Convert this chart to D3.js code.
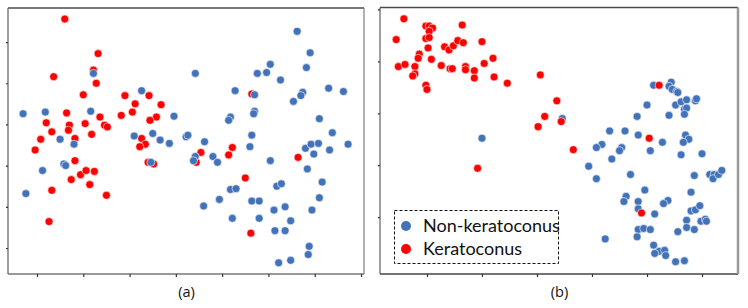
<!DOCTYPE html>
<html>
<head>
<meta charset="utf-8">
<script src="https://cdn.jsdelivr.net/npm/d3@7"></script>
<style>
  html, body { margin: 0; padding: 0; background: #fff; }
  svg { display: block; }
</style>
</head>
<body>
<svg id="chart" width="748" height="308"></svg>
<script>
// ---- Data (arbitrary embedding units) ----
const seriesNames = ["Non-keratoconus", "Keratoconus"];
const panelLabels = ["(a)", "(b)"];

// Panel (a)
const aNonKC = [
  [61,212],[-15,163],[9,165],[58,166],[113,191],[148,160],[25,132],[40,126],[105,136],[125,139],
  [133,131],[143,127],[161,135],[163,137],[281,263],[295,237],[252,223],[171,212],[238,212],[248,213],
  [291,219],[263,204],[214,191],[235,186],[315,194],[331,190],[287,189],[285,185],[277,178],[235,166],
  [234,163],[209,159],[207,155],[305,157],[181,129],[232,137],[319,140],[230,123],[290,121],[296,126],
  [304,127],[316,119],[336,126],[-12,66],[6,94],[29,102],[31,100],[123,104],[171,111],[169,106],
  [190,111],[195,104],[299,114],[252,106],[292,96],[209,71],[215,72],[259,75],[264,78],[308,80],
  [197,59],[232,57],[240,57],[305,61],[180,51],[256,46],[268,50],[297,46],[211,36],[240,36],
  [274,33],[257,21],[268,21],[294,2],[293,-8],[274,-15],[261,-18]
];
const aKC = [
  [30,278],[66,236],[61,216],[18,208],[64,200],[50,186],[95,185],[121,185],[106,175],[134,174],
  [32,164],[91,161],[103,165],[68,159],[129,159],[122,155],[10,152],[35,149],[52,151],[73,149],
  [76,147],[16,141],[34,143],[4,132],[41,133],[59,138],[113,133],[117,126],[111,123],[-2,119],
  [211,122],[41,106],[16,70],[37,83],[47,89],[53,94],[62,93],[57,77],[75,64],[13,32],
  [120,104],[126,102],[177,116],[172,104],[207,113],[282,110],[225,85],[231,18],[232,187]
];

// Panel (b)
const bNonKC = [
  [50,76],[123,95],[206,127],[222,130],[220,126],[223,123],[227,121],[228,120],[200,108],[226,108],
  [231,111],[236,113],[244,112],[245,114],[234,104],[236,105],[234,99],[220,98],[191,97],[166,83],
  [180,83],[192,79],[214,72],[235,79],[238,75],[233,72],[159,70],[154,67],[177,67],[175,64],
  [203,64],[168,56],[231,60],[250,61],[147,49],[154,37],[185,41],[243,40],[257,41],[261,41],
  [260,37],[265,41],[268,45],[198,26],[240,24],[181,20],[179,15],[192,15],[192,8],[207,3],
  [219,16],[215,13],[240,6],[244,7],[248,11],[236,-3],[249,-4],[253,-2],[254,-4],[192,-12],
  [197,-11],[203,-12],[191,-19],[228,-14],[236,-10],[243,-12],[162,-21],[206,-27],[211,-33],[216,-32],
  [207,-35],[217,-37],[226,-43],[234,-42]
];
const bKC = [
  [-21,191],[-1,184],[2,184],[5,182],[2,179],[32,185],[-28,171],[-1,172],[2,173],[1,163],
  [-7,157],[-8,153],[4,152],[16,164],[20,161],[24,165],[28,170],[33,168],[50,169],[-26,145],
  [-20,147],[-11,145],[-11,138],[-13,136],[13,146],[21,143],[23,143],[35,145],[35,142],[43,141],
  [43,134],[52,148],[60,153],[61,135],[-1,127],[0,123],[73,129],[103,137],[118,112],[107,97],
  [101,87],[122,92],[133,65],[211,127],[202,76],[195,4],[46,47]
];

// Axis ticks (unlabelled in the original)
const aXTicks = [0,50,100,150,200,250,300,350];
const aYTicks = [0,50,100,150,200,250];
const bXTicks = [0,50,100,150,200,250];
const bYTicks = [0,50,100,150,200];

// ---- Layout ----
const colors = { nonkc: "#4272ba", kc: "#ff0000" };
const svg = d3.select("#chart");

const panels = [
  { box: {x0: 8, x1: 364, y0: 8, y1: 274}, xDom: [-31.3, 353.2], yDom: [-31.6, 291.4],
    xTicks: aXTicks, yTicks: aYTicks, non: aNonKC, kc: aKC, label: panelLabels[0], redFirst: true },
  { box: {x0: 380, x1: 738, y0: 7.5, y1: 274}, xDom: [-42.7, 282.7], yDom: [-54.8, 201.9],
    xTicks: bXTicks, yTicks: bYTicks, non: bNonKC, kc: bKC, label: panelLabels[1], redFirst: false }
];

panels.forEach((p, i) => {
  const b = p.box;
  const x = d3.scaleLinear().domain(p.xDom).range([b.x0, b.x1]);
  const y = d3.scaleLinear().domain(p.yDom).range([b.y1, b.y0]);
  const g = svg.append("g");

  // points
  const drawPts = (data, col) => g.append("g").selectAll("circle").data(data).join("circle")
    .attr("cx", d => x(d[0])).attr("cy", d => y(d[1])).attr("r", 4)
    .attr("fill", col).attr("stroke", "#fff").attr("stroke-width", 0.6);
  if (p.redFirst) { drawPts(p.kc, colors.kc); drawPts(p.non, colors.nonkc); }
  else { drawPts(p.non, colors.nonkc); drawPts(p.kc, colors.kc); }

  // borders
  const line = (x1, y1, x2, y2, c, w) => g.append("line")
    .attr("x1", x1).attr("y1", y1).attr("x2", x2).attr("y2", y2)
    .attr("stroke", c).attr("stroke-width", w);
  line(b.x0, b.y0, b.x1, b.y0, "#4a4a4a", 1.3);
  line(b.x0, b.y0, b.x0, b.y1, "#6a6a6a", 1.3);
  line(b.x0, b.y1, b.x1, b.y1, i === 0 ? "#777" : "#444", 1.3);
  line(b.x1, b.y0, b.x1, b.y1, i === 0 ? "#888" : "#999", i === 0 ? 1.3 : 2.5);

  // ticks via axes
  const xAxis = d3.axisBottom(x).tickValues(p.xTicks).tickSize(3).tickFormat("");
  const yAxis = d3.axisLeft(y).tickValues(p.yTicks).tickSize(2).tickFormat("");
  const gx = g.append("g").attr("transform", `translate(0,${b.y1})`).call(xAxis);
  const gy = g.append("g").attr("transform", `translate(${b.x0},0)`).call(yAxis);
  [gx, gy].forEach(a => {
    a.select(".domain").remove();
    a.selectAll(".tick line").attr("stroke", "#333").attr("stroke-width", 1.2);
  });

  // panel label
  svg.append("text").attr("x", (b.x0 + b.x1) / 2 + 0.5).attr("y", 297)
    .attr("text-anchor", "middle").attr("font-family", "'Open Sans', sans-serif")
    .attr("font-size", 14.5).attr("fill", "#111").text(p.label);
});

// legend
const lg = svg.append("g");
lg.append("rect").attr("x", 394.5).attr("y", 210.5).attr("width", 164).attr("height", 53)
  .attr("fill", "#fff").attr("stroke", "#111").attr("stroke-width", 1)
  .attr("stroke-dasharray", "3,2");
const legendItems = [
  { name: seriesNames[0], col: colors.nonkc },
  { name: seriesNames[1], col: colors.kc }
];
legendItems.forEach((it, k) => {
  const cy = 226 + k * 23;
  lg.append("circle").attr("cx", 406).attr("cy", cy).attr("r", 5).attr("fill", it.col);
  lg.append("text").attr("x", 423).attr("y", cy + 5.5)
    .attr("font-family", "Lato, sans-serif").attr("font-size", 18).attr("fill", "#111")
    .text(it.name);
});
</script>
</body>
</html>
